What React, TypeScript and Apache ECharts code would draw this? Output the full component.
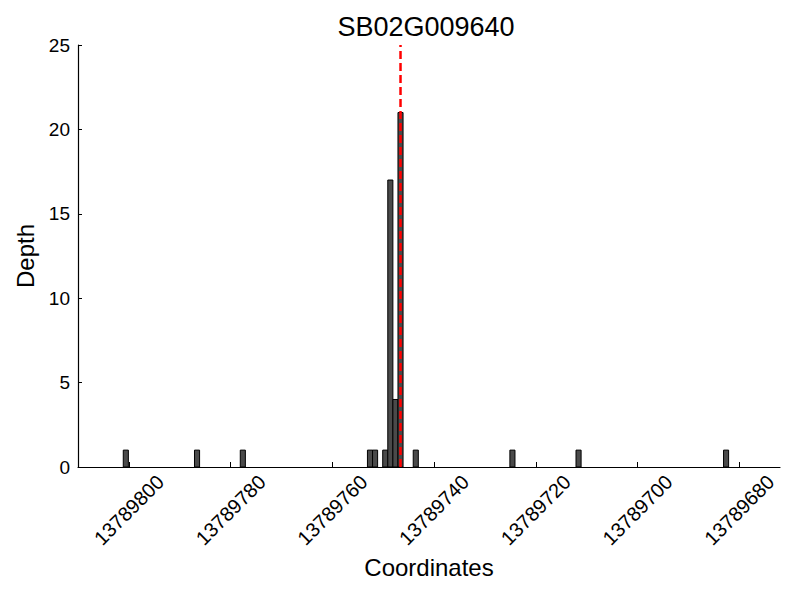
import React, { useEffect, useRef } from "react";
import * as echarts from "echarts";

const geneName = "SB02G009640";
const positions = [13789800, 13789786, 13789777, 13789752, 13789751, 13789749, 13789748, 13789747, 13789746, 13789743, 13789724, 13789711, 13789682];
const depths = [1, 1, 1, 1, 1, 1, 17, 4, 21, 1, 1, 1, 1];
const xTicks = [13789800, 13789780, 13789760, 13789740, 13789720, 13789700, 13789680];
const yTicks = [0, 5, 10, 15, 20, 25];
const geneMark = 13789746.6;
const xMin = 13789672;
const xMax = 13789810;

export default function App() {
  const ref = useRef<HTMLDivElement>(null);
  useEffect(() => {
    if (!ref.current) return;
    const chart = echarts.init(ref.current, null, { renderer: "svg" });
    const font = "Liberation Sans";
    chart.setOption({
      animation: false,
      backgroundColor: "#ffffff",
      textStyle: { fontFamily: font },
      title: {
        text: geneName,
        left: 421,
        top: 8,
        textAlign: "center",
        textStyle: { fontFamily: font, fontSize: 27, fontWeight: "normal", color: "#000" },
      },
      grid: { left: 78, right: 20, top: 45, bottom: 133 },
      xAxis: {
        type: "value",
        inverse: true,
        min: xMin,
        max: xMax,
        name: "Coordinates",
        nameLocation: "middle",
        nameGap: 88,
        nameTextStyle: { fontFamily: font, fontSize: 24, color: "#000" },
        axisLine: { show: true, lineStyle: { color: "#000", width: 1.2 } },
        axisTick: { show: true, inside: true, length: 5, customValues: xTicks, lineStyle: { color: "#000" } },
        axisLabel: {
          customValues: xTicks,
          rotate: 45,
          align: "center",
          verticalAlign: "middle",
          margin: 43,
          fontFamily: font,
          fontSize: 20,
          color: "#000",
          formatter: (v: number) => String(v),
        },
        splitLine: { show: false },
      },
      yAxis: {
        type: "value",
        min: 0,
        max: 25,
        interval: 5,
        name: "Depth",
        nameLocation: "middle",
        nameGap: 40,
        nameTextStyle: { fontFamily: font, fontSize: 24, color: "#000" },
        axisLine: { show: true, lineStyle: { color: "#000", width: 1.2 } },
        axisTick: { show: true, inside: true, length: 4, lineStyle: { color: "#000" } },
        axisLabel: {
          customValues: yTicks,
          margin: 8,
          fontFamily: font,
          fontSize: 19,
          color: "#000",
        },
        splitLine: { show: false },
      },
      series: [
        {
          type: "custom",
          encode: { x: 0, y: 1 },
          data: positions.map((p, i) => [p, depths[i]]),
          renderItem: (params: any, api: any) => {
            const x0 = api.value(0);
            const d = api.value(1);
            const a = api.coord([x0 + 0.1, d]);
            const b = api.coord([x0 + 1.1, 0]);
            return {
              type: "rect",
              shape: {
                x: Math.min(a[0], b[0]),
                y: a[1],
                width: Math.abs(b[0] - a[0]),
                height: b[1] - a[1],
              },
              style: { fill: "#4a4a4a", stroke: "#000", lineWidth: 1 },
            };
          },
          z: 2,
        },
        {
          type: "line",
          data: [[geneMark, 0], [geneMark, 25]],
          symbol: "none",
          lineStyle: { color: "#ff0000", width: 2.5, type: [8, 4] },
          z: 3,
        },
      ],
    });
    return () => chart.dispose();
  }, []);
  return <div ref={ref} style={{ position: "fixed", left: 0, top: 0, width: 800, height: 600 }} />;
}
